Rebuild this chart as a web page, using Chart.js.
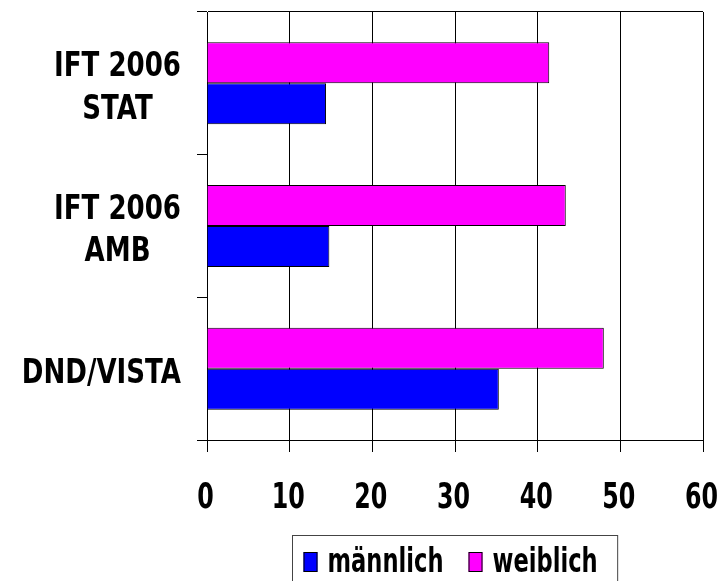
<!DOCTYPE html>
<html>
<head>
<meta charset="utf-8">
<script src="https://cdn.jsdelivr.net/npm/chart.js@4"></script>
<style>
  html, body { margin: 0; padding: 0; background: #fff; }
</style>
</head>
<body>
<canvas id="chart" width="725" height="581"></canvas>
<script>
// data
const categories = [['IFT 2006', 'STAT'], ['IFT 2006', 'AMB'], ['DND/VISTA']];
const seriesNames = ['männlich', 'weiblich'];
const maleValues = [14.4, 14.8, 35.3];
const femaleValues = [41.4, 43.4, 48.0];
const xTicks = [0, 10, 20, 30, 40, 50, 60];

const colors = { 'männlich': '#0000ff', 'weiblich': '#ff00ff' };
const FONT = '"DejaVu Sans", Verdana, sans-serif';

// draws text squeezed horizontally (the original uses a narrow bold face)
function squeezed(ctx, text, x, y, sx, align) {
  ctx.save();
  ctx.translate(x, y);
  ctx.scale(sx, 1);
  ctx.textAlign = align;
  ctx.textBaseline = 'alphabetic';
  ctx.fillText(text, 0, 0);
  ctx.restore();
}

const textPlugin = {
  id: 'squeezedText',
  afterDraw(chart) {
    const { ctx, chartArea, scales: { x, y } } = chart;
    ctx.save();
    ctx.fillStyle = '#000';

    // category labels, lines centred inside a right-aligned block
    ctx.font = 'bold 33px ' + FONT;
    const sy = 0.79, lh = 42.5;
    categories.forEach((lines, i) => {
      const cy = y.getPixelForTick(i);
      const w = Math.max(...lines.map(t => ctx.measureText(t).width)) * sy;
      const cx = chartArea.left - 26 - w / 2;
      lines.forEach((t, j) => {
        const by = cy + 14 - (lines.length - 1) * lh / 2 + j * lh;
        squeezed(ctx, t, cx, by, sy, 'center');
      });
    });

    // value axis labels
    ctx.font = 'bold 36px ' + FONT;
    xTicks.forEach(v => {
      squeezed(ctx, String(v), x.getPixelForValue(v) - 1.5, chartArea.bottom + 68, 0.66, 'center');
    });

    // legend with a frame
    ctx.font = 'bold 34px ' + FONT;
    const sl = 0.665;
    const items = seriesNames.map(n => ({ name: n, w: ctx.measureText(n).width * sl }));
    const contentW = items.reduce((s, it) => s + 14 + 10 + it.w, 0) + 25;
    const boxW = contentW + 31;
    const boxL = Math.round((chartArea.left + chartArea.right) / 2 - boxW / 2) + 0.5;
    const boxT = 535.5;
    ctx.strokeStyle = '#444';
    ctx.lineWidth = 1;
    ctx.strokeRect(boxL, boxT, boxW, 60);
    let lx = boxL + 11;
    items.forEach(it => {
      ctx.fillStyle = colors[it.name];
      ctx.fillRect(lx, 552, 14, 20);
      ctx.strokeStyle = '#000';
      ctx.strokeRect(lx + 0.5, 552.5, 13, 19);
      ctx.fillStyle = '#000';
      squeezed(ctx, it.name, lx + 24, 572, sl, 'left');
      lx += 14 + 10 + it.w + 25;
    });
    ctx.restore();
  }
};

const ctx = document.getElementById('chart').getContext('2d');
const chart = new Chart(ctx, {
  type: 'bar',
  data: {
    labels: categories,
    datasets: [
      {
        label: 'weiblich',
        data: femaleValues,
        backgroundColor: colors['weiblich'],
        borderColor: '#000',
        borderWidth: 1
      },
      {
        label: 'männlich',
        data: maleValues,
        backgroundColor: colors['männlich'],
        borderColor: '#000',
        borderWidth: 1
      }
    ]
  },
  options: {
    indexAxis: 'y',
    responsive: false,
    animation: false,
    categoryPercentage: 0.575,
    barPercentage: 1.0,
    layout: { padding: { top: 12, right: 22, left: 0, bottom: 0 } },
    plugins: {
      legend: { display: false },
      tooltip: { enabled: false }
    },
    scales: {
      x: {
        type: 'linear',
        min: 0,
        max: 60,
        ticks: { stepSize: 10, display: false },
        grid: { color: '#000', tickColor: '#000', tickLength: 12, lineWidth: 1 },
        border: { color: '#000' },
        afterFit: s => { s.height = 141; }
      },
      y: {
        ticks: { display: false },
        grid: {
          offset: true,
          // only the top edge of the plot is drawn across
          color: c => (c.index === 0 ? '#000' : 'rgba(0,0,0,0)'),
          tickColor: '#000',
          tickLength: 10
        },
        border: { color: '#000' },
        afterFit: s => { s.width = 207; }
      }
    }
  },
  plugins: [textPlugin]
});
</script>
</body>
</html>
